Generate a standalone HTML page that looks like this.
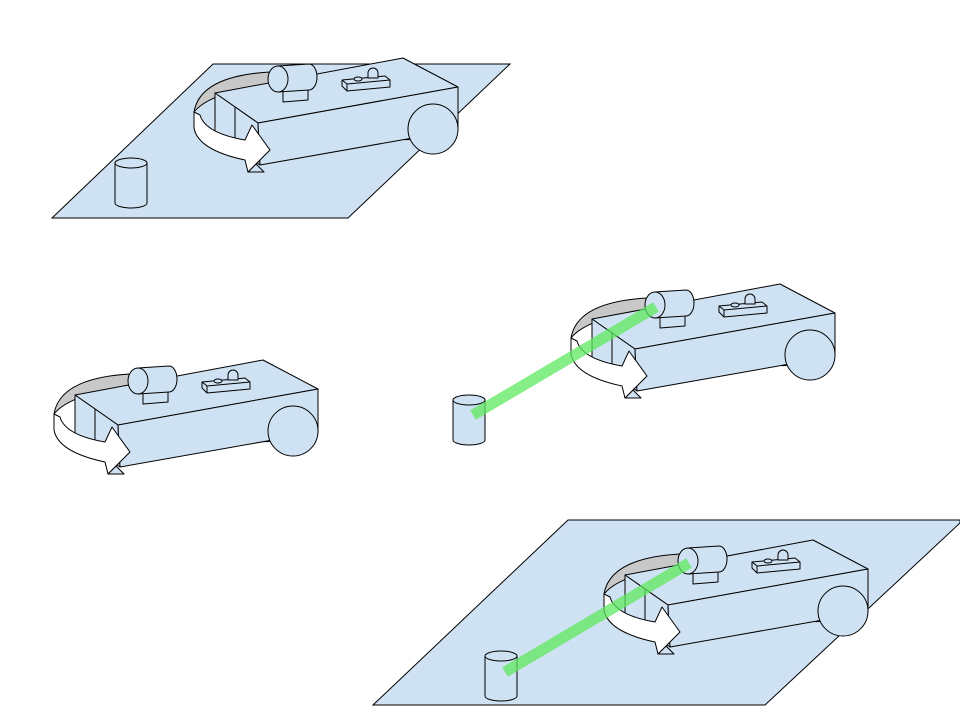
<!DOCTYPE html>
<html><head><meta charset="utf-8"><style>
html,body{margin:0;padding:0;background:#fff;width:960px;height:720px;overflow:hidden}
svg{display:block}
</style></head><body>
<svg width="960" height="720" viewBox="0 0 960 720">
<defs>
<g id="robot" stroke="#000" stroke-width="1" stroke-linejoin="round">
  <path d="M270,72 Q200,76 194,112 Q210,92 272,84 Z" fill="#c8c8c8"/>
  <path d="M390,134 A18,10 0 0 0 420,136 Z" fill="#cfe2f3"/>
  <path d="M215,93 L403,58 L458,87 L258,123 Z" fill="#cfe2f3"/>
  <path d="M215,93 L258,123 L260,165 L215,133 Z" fill="#cfe2f3"/>
  <line x1="235" y1="107" x2="235" y2="147"/>
  <path d="M258,123 L458,87 L458,130 L260,165 Z" fill="#cfe2f3"/>
  <circle cx="433" cy="129" r="25" fill="#cfe2f3"/>
  <path d="M283,88 L308,86 L308,100 L283,102 Z" fill="#cfe2f3"/>
  <path d="M278,66 L309,64 A8,13 0 0 1 309,90 L278,92 Z" fill="#cfe2f3"/>
  <ellipse cx="278" cy="79" rx="10" ry="13" fill="#cfe2f3"/>
  <path d="M342,80 L385,76 L390,80 L390,87 L347,91 L342,86 Z" fill="#cfe2f3"/>
  <path d="M342,80 L347,84 L390,80 M347,84 L347,91" fill="none"/>
  <path d="M368,78 L368,73 A5,5 0 0 1 378,73 L378,78 Z" fill="#cfe2f3"/>
  <ellipse cx="358" cy="79" rx="4" ry="2" fill="#cfe2f3"/>
  <path d="M248,172 L256,164 L264,172 Z" fill="#cfe2f3"/>
  <path d="M194,112 L194,128 Q198,150 245,160 L248,172 L270,150 L252,125 L245,140 Q205,133 200,115 Z" fill="#fff"/>
</g>
<g id="cyl" stroke="#000" stroke-width="1">
  <path d="M0,0 L0,40 A16,5 0 0 0 32,40 L32,0 Z" fill="#cfe2f3"/>
  <ellipse cx="16" cy="0" rx="16" ry="5" fill="#cfe2f3"/>
</g>
</defs>

<polygon points="52,218 213,64 510,64 348,218" fill="#cfe2f3" stroke="#000"/>
<use href="#cyl" x="115" y="163"/>
<use href="#robot"/>

<use href="#robot" transform="translate(-140,302)"/>

<use href="#cyl" x="453" y="400"/>
<use href="#robot" transform="translate(377,226)"/>
<line x1="473" y1="415" x2="656" y2="307" stroke="#5ee85e" stroke-opacity="0.75" stroke-width="11"/>

<polygon points="373,705 568,520 960,520 960,523 765,705" fill="#cfe2f3" stroke="#000"/>
<use href="#cyl" x="485" y="656"/>
<use href="#robot" transform="translate(410,482)"/>
<line x1="505" y1="672" x2="689" y2="563" stroke="#5ee85e" stroke-opacity="0.75" stroke-width="11"/>
</svg>
</body></html>
